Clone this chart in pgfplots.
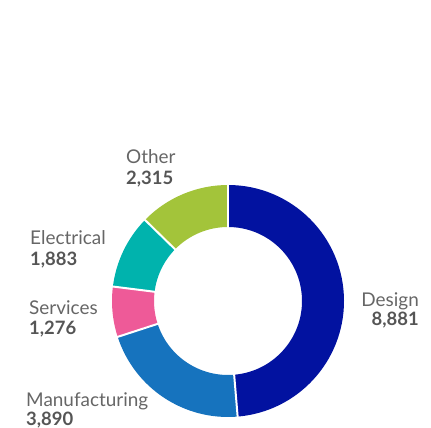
\documentclass[border=0pt]{standalone}
\usepackage{fontspec}
\setmainfont{Lato}
\usepackage{pgfplots}
\usepackage{pgfplotstable}
\pgfplotsset{compat=1.18}
\definecolor{cDesign}{HTML}{0212A0}
\definecolor{cManuf}{HTML}{1673BE}
\definecolor{cServ}{HTML}{EE5A98}
\definecolor{cElec}{HTML}{00B3AD}
\definecolor{cOther}{HTML}{A3C43A}
\definecolor{lblgray}{HTML}{666666}
\definecolor{valgray}{HTML}{555555}
\pgfplotstableread{
label value color
Design 8881 cDesign
Manufacturing 3890 cManuf
Services 1276 cServ
Electrical 1883 cElec
Other 2315 cOther
}\donutdata
\begin{document}
\begin{tikzpicture}
\def\total{0}
\pgfplotsforeachungrouped \i in {0,...,4}{%
  \pgfplotstablegetelem{\i}{value}\of\donutdata
  \pgfmathsetmacro{\newtotal}{\total+\pgfplotsretval/1000}%
  \global\let\total\newtotal
}
\def\cx{228}\def\cy{127}\def\R{116}\def\r{74}
\begin{axis}[
  scale only axis, width=431bp, height=428bp,
  xmin=0, xmax=431, ymin=0, ymax=428,
  hide axis, clip=false,
]
\path (axis cs:0,0) rectangle (axis cs:431,428);
\def\cum{0}
\pgfplotsforeachungrouped \i in {0,...,4}{%
  \pgfplotstablegetelem{\i}{value}\of\donutdata
  \let\v\pgfplotsretval
  \pgfplotstablegetelem{\i}{color}\of\donutdata
  \let\col\pgfplotsretval
  \pgfmathsetmacro{\aA}{90-\cum/\total*360}%
  \pgfmathsetmacro{\newcum}{\cum+\v/1000}%
  \pgfmathsetmacro{\aB}{90-\newcum/\total*360}%
  \pgfmathsetmacro{\xA}{\cx+\R*cos(\aA)}%
  \pgfmathsetmacro{\yA}{\cy+\R*sin(\aA)}%
  \pgfmathsetmacro{\xB}{\cx+\r*cos(\aB)}%
  \pgfmathsetmacro{\yB}{\cy+\r*sin(\aB)}%
  \pgfmathsetmacro{\xC}{\cx+(\r-2)*cos(\aA)}%
  \pgfmathsetmacro{\yC}{\cy+(\r-2)*sin(\aA)}%
  \pgfmathsetmacro{\xD}{\cx+(\R+2)*cos(\aA)}%
  \pgfmathsetmacro{\yD}{\cy+(\R+2)*sin(\aA)}%
  \edef\cmd{\noexpand\fill[\col] (axis cs:\xA,\yA) arc[start angle=\aA, end angle=\aB, radius=\R bp] -- (axis cs:\xB,\yB) arc[start angle=\aB, end angle=\aA, radius=\r bp] -- cycle;
  \noexpand\draw[white, line width=2bp] (axis cs:\xC,\yC) -- (axis cs:\xD,\yD);}%
  \cmd
  \global\let\cum\newcum
}
\draw[white, line width=2bp] (axis cs:\cx,\cy+\r-2) -- (axis cs:\cx,\cy+\R+2);
\tikzset{lbl/.style={font=\fontsize{19}{22}\selectfont, text=lblgray, inner sep=0pt},
         val/.style={font=\fontsize{18.5}{22}\selectfont\bfseries, text=valgray, inner sep=0pt}}
\node[lbl, anchor=base west] at (axis cs:126,264) {Other};
\node[val, anchor=base west] at (axis cs:126,243) {2,315};
\node[lbl, anchor=base west] at (axis cs:30,183) {Electrical};
\node[val, anchor=base west] at (axis cs:30,162) {1,883};
\node[lbl, anchor=base west] at (axis cs:29,113) {Services};
\node[val, anchor=base west] at (axis cs:29,93) {1,276};
\node[lbl, anchor=base west] at (axis cs:26,22) {Manufacturing};
\node[val, anchor=base west] at (axis cs:26,3) {3,890};
\node[lbl, anchor=base east] at (axis cs:419,121) {Design};
\node[val, anchor=base east] at (axis cs:419,102) {8,881};
\end{axis}
\end{tikzpicture}
\end{document}
